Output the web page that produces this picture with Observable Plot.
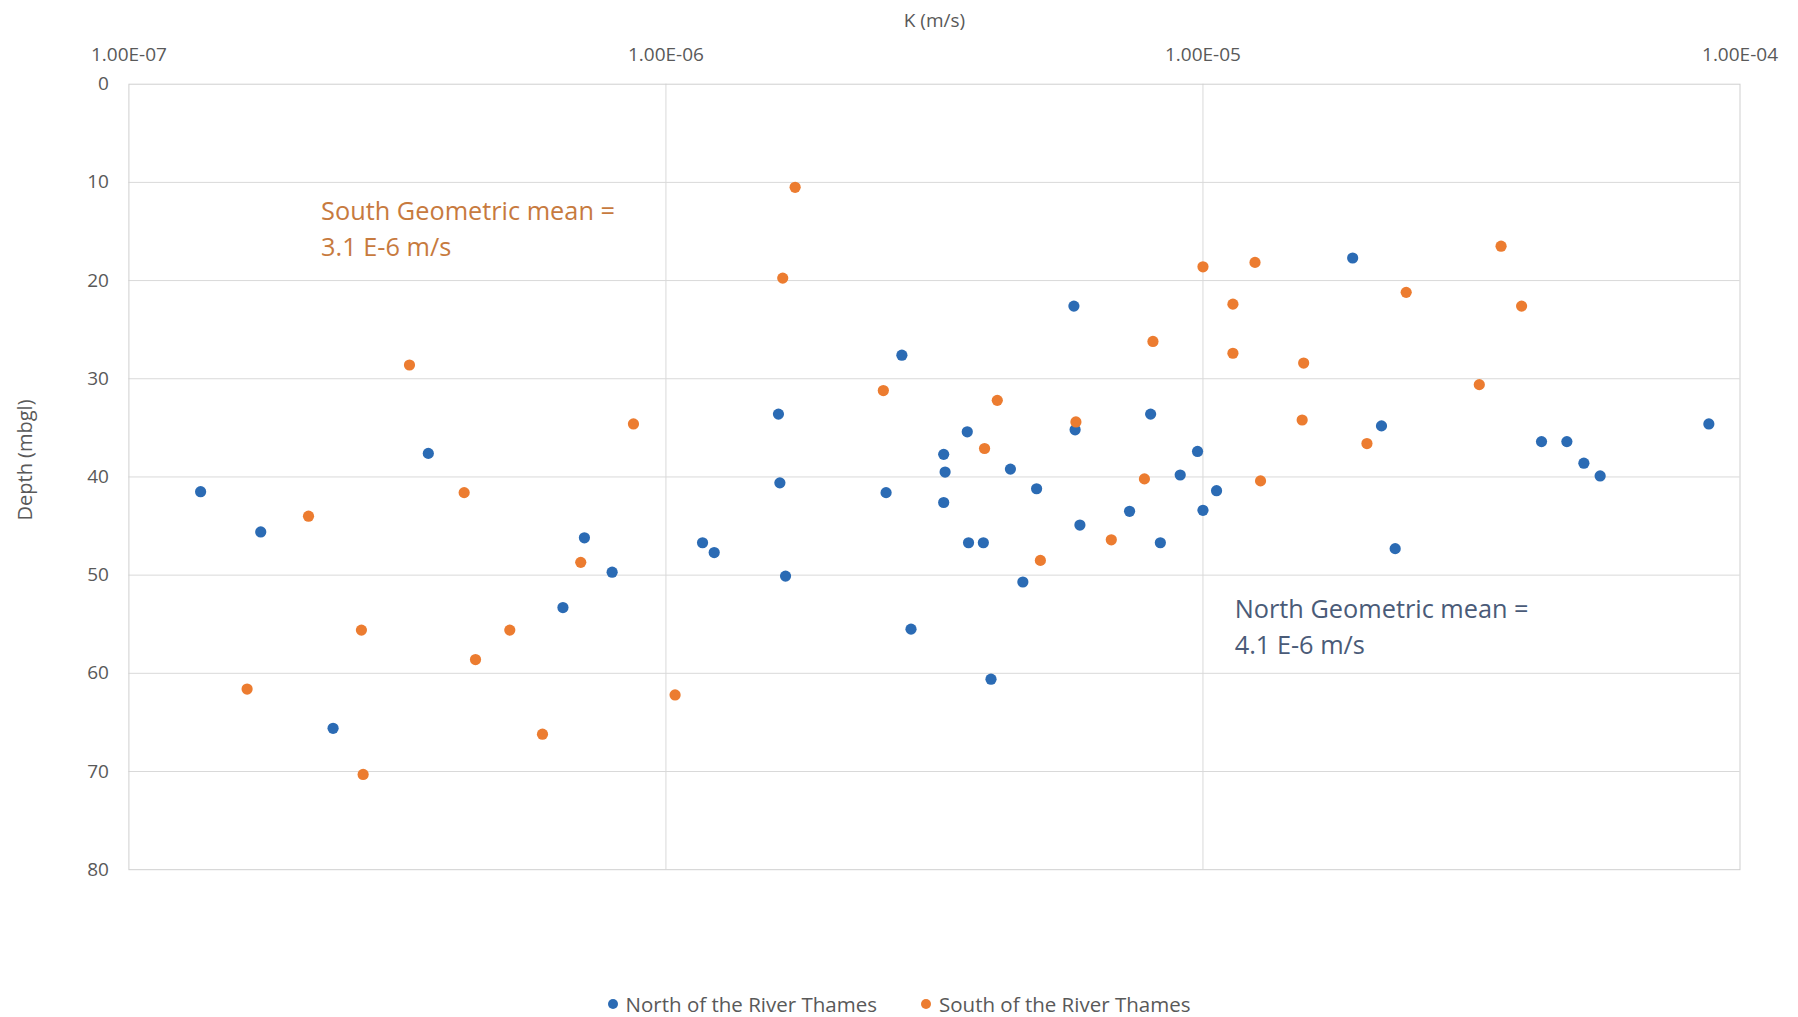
<!DOCTYPE html>
<html>
<head>
<meta charset="utf-8">
<script src="https://cdn.jsdelivr.net/npm/d3@7"></script>
<script src="https://cdn.jsdelivr.net/npm/@observablehq/plot@0.6"></script>
<style>
  html, body { margin: 0; padding: 0; background: #fff; }
  #wrap { position: relative; width: 1798px; height: 1017px; font-family: "Open Sans", sans-serif; }
  #legend { position: absolute; left: 0; width: 1798px; top: 989px; display: flex; justify-content: center; font-size: 20.5px; line-height: 30px; color: #595959; }
  .item { display: flex; align-items: center; }
  .sw { width: 10px; height: 10px; border-radius: 50%; margin-right: 8px; }
</style>
</head>
<body>
<div id="wrap"><div id="chart"></div><div id="legend"></div></div>
<script>
// ---- data ----
const seriesNames = ["North of the River Thames", "South of the River Thames"];
const seriesColors = ["#2b6bb4", "#ec7c30"];

const northK = [1.36e-7, 1.76e-7, 2.40e-7, 3.61e-7, 6.43e-7, 7.05e-7, 7.94e-7, 1.17e-6, 1.23e-6, 1.62e-6,
  1.63e-6, 1.67e-6, 2.57e-6, 2.75e-6, 2.86e-6, 3.29e-6, 3.31e-6, 3.29e-6, 3.64e-6, 3.66e-6,
  3.90e-6, 4.03e-6, 4.38e-6, 4.62e-6, 4.90e-6, 5.75e-6, 5.78e-6, 5.90e-6, 7.30e-6, 7.99e-6,
  8.33e-6, 9.07e-6, 9.77e-6, 1.00e-5, 1.06e-5, 1.90e-5, 2.15e-5, 2.28e-5, 4.27e-5, 4.76e-5,
  5.12e-5, 5.49e-5, 8.75e-5];
const northDepth = [41.5, 45.6, 65.6, 37.6, 53.3, 46.2, 49.7, 46.7, 47.7, 33.6,
  40.6, 50.1, 41.6, 27.6, 55.5, 37.7, 39.5, 42.6, 35.4, 46.7,
  46.7, 60.6, 39.2, 50.7, 41.2, 22.6, 35.2, 44.9, 43.5, 33.6,
  46.7, 39.8, 37.4, 43.4, 41.4, 17.7, 34.8, 47.3, 36.4, 36.4,
  38.6, 39.9, 34.6];

const southK = [1.66e-7, 2.16e-7, 2.71e-7, 2.73e-7, 3.33e-7, 4.21e-7, 4.42e-7, 5.12e-7, 5.89e-7, 6.94e-7,
  8.70e-7, 1.04e-6, 1.65e-6, 1.74e-6, 2.54e-6, 3.92e-6, 4.14e-6, 4.98e-6, 5.80e-6, 6.75e-6,
  7.78e-6, 8.07e-6, 1.00e-5, 1.137e-5, 1.137e-5, 1.25e-5, 1.28e-5, 1.54e-5, 1.53e-5, 2.02e-5,
  2.39e-5, 3.27e-5, 3.59e-5, 3.92e-5];
const southDepth = [61.6, 44.0, 55.6, 70.3, 28.6, 41.6, 58.6, 55.6, 66.2, 48.7,
  34.6, 62.2, 19.75, 10.5, 31.2, 37.1, 32.2, 48.5, 34.4, 46.4,
  40.2, 26.2, 18.6, 22.4, 27.4, 18.15, 40.4, 28.4, 34.2, 36.6,
  21.2, 30.6, 16.5, 22.6];

const kTicks = [1e-7, 1e-6, 1e-5, 1e-4];
const kTickLabels = ["1.00E-07", "1.00E-06", "1.00E-05", "1.00E-04"];
const depthTicks = [0, 10, 20, 30, 40, 50, 60, 70, 80];

const xTitle = "K (m/s)";
const yTitle = "Depth (mbgl)";

const notes = [
  {text: "South Geometric mean =\n3.1 E-6 m/s", k: 2.28e-7, depth: 14.5, color: "#c77a3e"},
  {text: "North Geometric mean =\n4.1 E-6 m/s", k: 1.146e-5, depth: 55.0, color: "#4a5b78"}
];

// ---- build ----
const points = [
  ...northK.map((k, i) => ({k, depth: northDepth[i], s: seriesNames[0]})),
  ...southK.map((k, i) => ({k, depth: southDepth[i], s: seriesNames[1]}))
];

const W = 1798, H = 960;
const mL = 128.4, mR = W - 1739.5, mT = 83.7, mB = H - 869.2;
const grid = "#d9d9d9";
const tickColor = "#595959";

const chart = Plot.plot({
  width: W,
  height: H,
  marginLeft: mL,
  marginRight: mR,
  marginTop: mT,
  marginBottom: mB,
  style: {fontFamily: "'Open Sans', sans-serif", background: "#fff"},
  x: {type: "log", domain: [kTicks[0], kTicks[kTicks.length - 1]]},
  y: {domain: [depthTicks[0], depthTicks[depthTicks.length - 1]], reverse: true},
  color: {domain: seriesNames, range: seriesColors},
  marks: [
    Plot.ruleX(kTicks.slice(1, -1), {stroke: grid, strokeWidth: 1}),
    Plot.ruleY(depthTicks.slice(1, -1), {stroke: grid, strokeWidth: 1}),
    Plot.frame({stroke: "#cfcfcf"}),
    Plot.axisX(kTicks, {anchor: "top", tickSize: 0, tickPadding: 23, fontSize: 19, fill: tickColor, label: null,
      tickFormat: d => kTickLabels[kTicks.indexOf(d)]}),
    Plot.axisY(depthTicks, {anchor: "left", tickSize: 0, tickPadding: 20, fontSize: 19, fill: tickColor, label: null}),
    Plot.text([xTitle], {frameAnchor: "top", dy: -71, fontSize: 19, fill: tickColor, text: d => d}),
    Plot.text([yTitle], {frameAnchor: "left", textAnchor: "middle", rotate: -90, dx: -103, dy: -17, fontSize: 20, fill: tickColor, text: d => d}),
    Plot.dot(points, {x: "k", y: "depth", fill: "s", r: 5.6, stroke: "none"}),
    Plot.text(notes, {x: "k", y: "depth", text: "text", fill: "color", textAnchor: "start", lineAnchor: "middle",
      fontSize: 25.3, lineHeight: 1.42})
  ]
});
document.getElementById("chart").appendChild(chart);

const legend = document.getElementById("legend");
seriesNames.forEach((name, i) => {
  const item = document.createElement("div");
  item.className = "item";
  item.style.marginRight = i === 0 ? "44px" : "0";
  const sw = document.createElement("span");
  sw.className = "sw";
  sw.style.background = seriesColors[i];
  const label = document.createElement("span");
  label.textContent = name;
  item.appendChild(sw);
  item.appendChild(label);
  legend.appendChild(item);
});
</script>
</body>
</html>
